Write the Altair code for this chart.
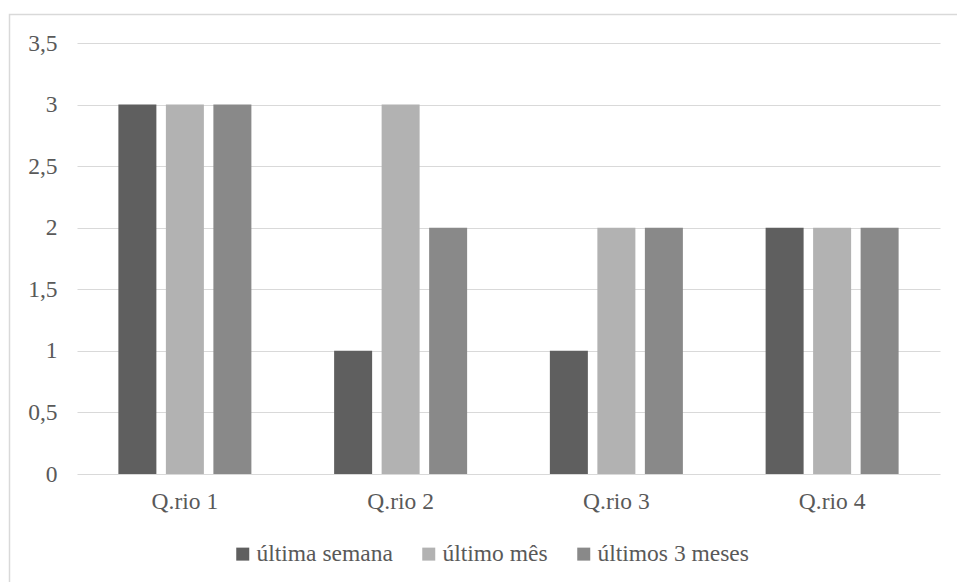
import altair as alt
import pandas as pd

# Questionnaire results per period
categories = ["Q.rio 1", "Q.rio 2", "Q.rio 3", "Q.rio 4"]
series = ["última semana", "último mês", "últimos 3 meses"]
ultima_semana = [3, 1, 1, 2]
ultimo_mes = [3, 3, 2, 2]
ultimos_3_meses = [3, 2, 2, 2]
colors = ["#5f5f5f", "#b2b2b2", "#898989"]

rows = []
for i, cat in enumerate(categories):
    for name, vals in zip(series, [ultima_semana, ultimo_mes, ultimos_3_meses]):
        rows.append({"cat": cat, "serie": name, "valor": vals[i]})
df = pd.DataFrame(rows)

FONT = "Liberation Serif"
SIZE = 23.5
TEXT = "#595959"
GRID = "#d9d9d9"

bars = alt.Chart(df).mark_bar().encode(
    x=alt.X(
        "cat:N",
        sort=categories,
        title=None,
        scale=alt.Scale(paddingInner=0.3835, paddingOuter=0.1918),
        axis=alt.Axis(
            labelAngle=0,
            domain=False,
            ticks=False,
            grid=False,
            labelPadding=15,
            labelBaseline="top",
            labelFont=FONT,
            labelFontSize=SIZE,
            labelColor=TEXT,
        ),
    ),
    xOffset=alt.XOffset(
        "serie:N", sort=series, scale=alt.Scale(paddingInner=0.2, paddingOuter=0)
    ),
    y=alt.Y(
        "valor:Q",
        title=None,
        scale=alt.Scale(domain=[0, 3.5], nice=False),
        axis=alt.Axis(
            values=[0, 0.5, 1, 1.5, 2, 2.5, 3, 3.5],
            labelExpr="replace(toString(datum.value), '.', ',')",
            domain=False,
            ticks=False,
            grid=True,
            gridColor=GRID,
            gridWidth=1,
            labelPadding=20,
            labelFont=FONT,
            labelFontSize=SIZE,
            labelColor=TEXT,
        ),
    ),
    color=alt.Color(
        "serie:N",
        sort=series,
        scale=alt.Scale(domain=series, range=colors),
        legend=alt.Legend(
            title=None,
            orient="none",
            direction="horizontal",
            legendX=154,
            legendY=499,
            symbolType="square",
            symbolSize=169,
            symbolStrokeWidth=0,
            labelOffset=2,
            columnPadding=24,
            labelFont=FONT,
            labelFontSize=SIZE,
            labelColor=TEXT,
        ),
    ),
)

# Outer frame of the chart area
frame = alt.Chart(alt.Data(values=[{}])).mark_rect(
    fill=None, stroke=GRID, strokeWidth=1.5, clip=False
).encode(
    x=alt.value(-67.5),
    x2=alt.value(1000),
    y=alt.value(-28.5),
    y2=alt.value(800),
)

chart = (
    alt.layer(frame, bars)
    .properties(
        width=863,
        height=431,
        padding={"left": 77, "top": 43, "right": 17, "bottom": 108},
        autosize=alt.AutoSizeParams(type="none"),
        background="white",
    )
    .configure_view(stroke=None)
)

chart.save("out.html", embed_options={"renderer": "svg", "actions": False})
